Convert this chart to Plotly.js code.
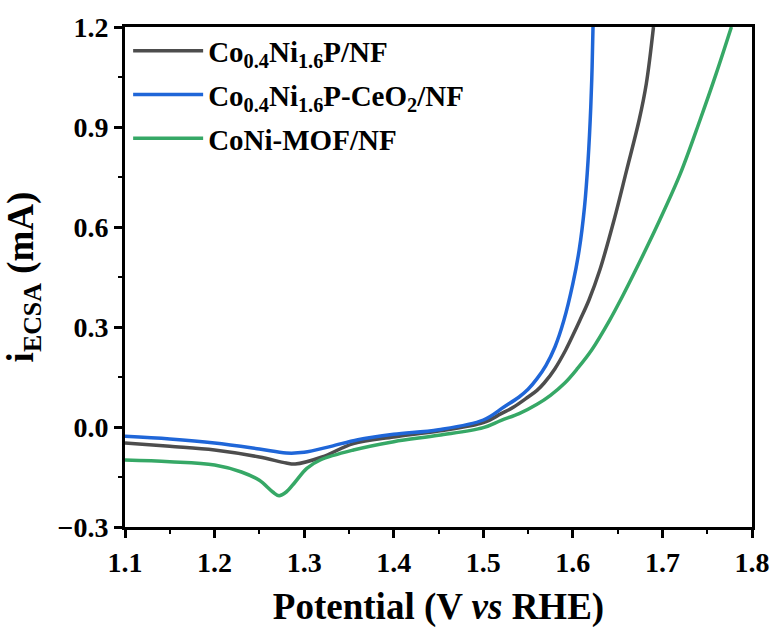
<!DOCTYPE html>
<html>
<head>
<meta charset="utf-8">
<script src="https://cdn.plot.ly/plotly-3.0.1.min.js"></script>
<style>html,body{margin:0;padding:0;background:#fff;}#chart{width:771px;height:628px;}</style>
</head>
<body>
<div id="chart"></div>
<script>
const seriesNames = [
  "Co<sub>0.4</sub>Ni<sub>1.6</sub>P/NF",
  "Co<sub>0.4</sub>Ni<sub>1.6</sub>P-CeO<sub>2</sub>/NF",
  "CoNi-MOF/NF"
];
const grayV = [1.10,1.15,1.20,1.25,1.28,1.29,1.32,1.355,1.40,1.45,1.50,1.52,1.534,1.55,1.56,1.568,1.58,1.592,1.60,1.608,1.618,1.63,1.646,1.66,1.674,1.682,1.690];
const grayI = [-0.048,-0.058,-0.069,-0.09,-0.108,-0.111,-0.09,-0.05,-0.03,-0.012,0.013,0.04,0.06,0.09,0.11,0.132,0.175,0.231,0.275,0.321,0.381,0.47,0.621,0.77,0.921,1.03,1.2];
const blueV = [1.10,1.15,1.20,1.25,1.28,1.30,1.33,1.36,1.40,1.45,1.50,1.523,1.54,1.55,1.56,1.57,1.58,1.59,1.60,1.607,1.613,1.617,1.620,1.6215,1.6225];
const blueI = [-0.028,-0.036,-0.048,-0.066,-0.078,-0.076,-0.058,-0.038,-0.022,-0.008,0.021,0.06,0.09,0.113,0.145,0.185,0.24,0.32,0.43,0.53,0.66,0.8,0.96,1.08,1.2];
const greenV = [1.10,1.15,1.20,1.23,1.25,1.265,1.272,1.28,1.29,1.303,1.318,1.355,1.40,1.45,1.50,1.52,1.54,1.56,1.575,1.591,1.605,1.621,1.641,1.655,1.67,1.697,1.72,1.742,1.76,1.777];
const greenI = [-0.099,-0.104,-0.114,-0.135,-0.16,-0.195,-0.206,-0.195,-0.165,-0.124,-0.099,-0.069,-0.044,-0.025,-0.002,0.02,0.04,0.068,0.095,0.132,0.175,0.231,0.32,0.39,0.47,0.621,0.76,0.921,1.06,1.2];
const colors = ["#4d4d4d", "#1f66d8", "#36a866"];

const FAM = "Liberation Serif";
const mk = (x, y, i) => ({
  x: x, y: y, type: "scatter", mode: "lines", name: seriesNames[i], legendgroup: "g" + i,
  line: {color: colors[i], width: 3.5, shape: "spline", smoothing: 1}
});
const data = [mk(grayV, grayI, 0), mk(blueV, blueI, 1), mk(greenV, greenI, 2)];

function axis(range, dtick, minorDtick, titleText, standoff) {
  return {
    range: range, dtick: dtick, tickformat: ".1f",
    showline: true, linewidth: 3, linecolor: "#000", mirror: true,
    ticks: "outside", ticklen: 8, tickwidth: 3, tickcolor: "#000",
    showgrid: false, zeroline: false,
    minor: {ticks: "outside", ticklen: 4, tickwidth: 2, dtick: minorDtick, tickcolor: "#000"},
    tickfont: {family: FAM, size: 28, color: "#000", weight: "bold"},
    title: {text: titleText, standoff: standoff, font: {family: FAM, size: 37, color: "#000", weight: "bold"}}
  };
}
const layout = {
  width: 771, height: 628,
  margin: {l: 125, r: 19, t: 27, b: 101},
  paper_bgcolor: "#fff", plot_bgcolor: "#fff",
  font: {family: FAM, color: "#000"},
  showlegend: true,
  legend: {
    x: 0.005, y: 1.003, xanchor: "left", yanchor: "top",
    bgcolor: "rgba(0,0,0,0)", itemwidth: 70, tracegroupgap: 3,
    font: {family: FAM, size: 29, color: "#000", weight: "bold"}
  },
  xaxis: axis([1.1, 1.8], 0.1, 0.05, "Potential (V <i>vs</i> RHE)", 20),
  yaxis: axis([-0.3, 1.2], 0.3, 0.15, "i<sub>ECSA</sub> (mA)", 20)
};
Plotly.newPlot("chart", data, layout, {displayModeBar: false, staticPlot: true});
</script>
</body>
</html>
